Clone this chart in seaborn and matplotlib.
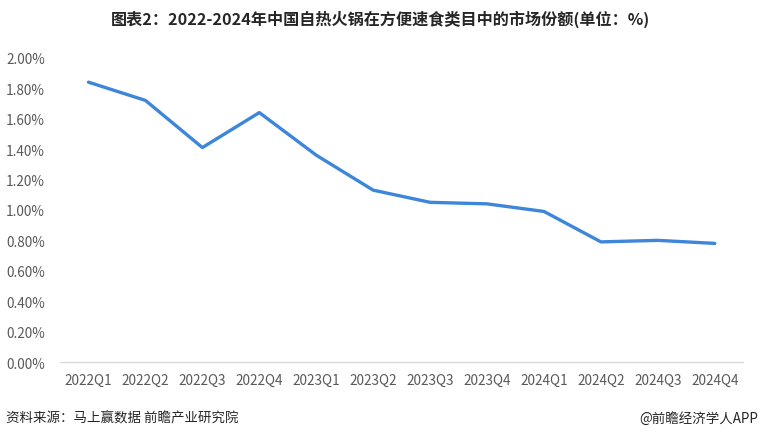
import matplotlib
matplotlib.use("Agg")
import matplotlib.pyplot as plt
import seaborn as sns
import pandas as pd

# data
quarters = ['2022Q1', '2022Q2', '2022Q3', '2022Q4', '2023Q1', '2023Q2',
            '2023Q3', '2023Q4', '2024Q1', '2024Q2', '2024Q3', '2024Q4']
share = [1.84, 1.72, 1.41, 1.64, 1.36, 1.13, 1.05, 1.04, 0.99, 0.79, 0.80, 0.78]
yticks = [0.0, 0.2, 0.4, 0.6, 0.8, 1.0, 1.2, 1.4, 1.6, 1.8, 2.0]

title = '图表2：2022-2024年中国自热火锅在方便速食类目中的市场份额(单位：%)'
source = '资料来源：马上赢数据 前瞻产业研究院'
credit = '@前瞻经济学人APP'

df = pd.DataFrame({'quarter': quarters, 'share': share})

sns.set_style('white')
plt.rcParams['font.family'] = ['Noto Sans CJK SC', 'DejaVu Sans']

fig = plt.figure(figsize=(7.6, 4.39), dpi=100)
ax = fig.add_axes([0.079, 0.173, 0.899, 0.693])

sns.lineplot(data=df, x='quarter', y='share', ax=ax, color='#3d86d9',
             linewidth=2.4, sort=False)

ax.set_ylim(0, 2.0)
ax.set_yticks(yticks)
ax.set_yticklabels([f'{v:.2f}%' for v in yticks])
ax.set_xlim(-0.5, len(quarters) - 0.5)
ax.set_xlabel('')
ax.set_ylabel('')

for s in ['top', 'right', 'left']:
    ax.spines[s].set_visible(False)
ax.spines['bottom'].set_color('#d9d9d9')
ax.spines['bottom'].set_linewidth(1.0)
ax.tick_params(axis='both', length=0, labelsize=9.8, colors='#595959')
ax.tick_params(axis='x', pad=8)
ax.tick_params(axis='y', pad=11)

fig.text(0.5, 0.955, title, ha='center', va='center', fontsize=11.6,
         fontweight='bold', color='#262626')
fig.text(0.008, 0.047, source, ha='left', va='center', fontsize=9.7, color='#262626')
fig.text(0.997, 0.047, credit, ha='right', va='center', fontsize=9.7, color='#262626')

fig.savefig('out.png', dpi=100)
